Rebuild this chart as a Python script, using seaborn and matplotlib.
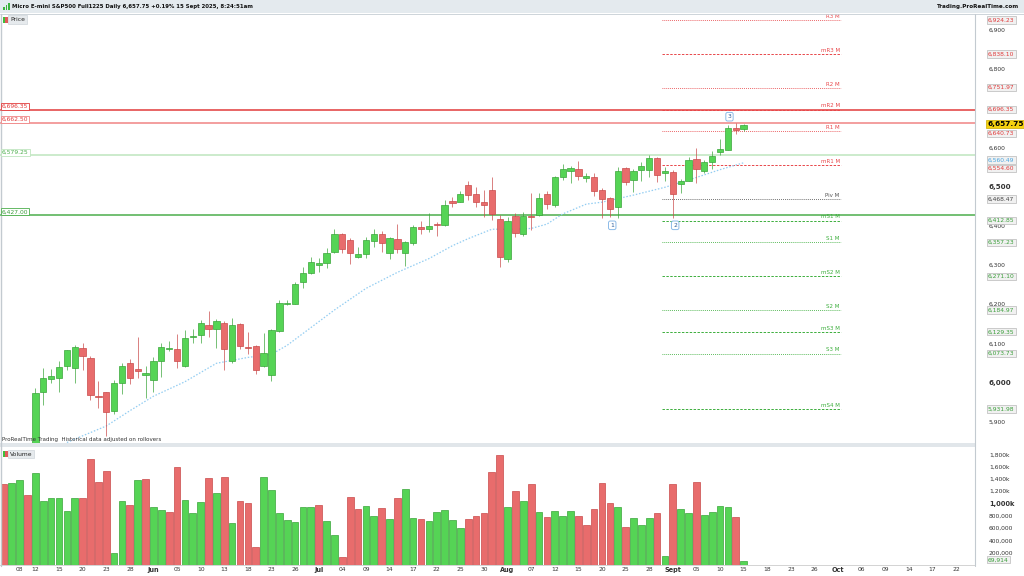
import matplotlib
matplotlib.use('Agg')
import matplotlib.pyplot as plt
import matplotlib.transforms as mtransforms
from matplotlib.patches import Rectangle
from matplotlib.lines import Line2D
import numpy as np
import pandas as pd
import seaborn as sns

# daily bars, 6 May -> 15 Sept 2025 (holidays are kept as short sessions)
opens = [5722, 5705, 5725, 5765, 5790, 5975, 6009, 6012, 6043, 6038,
         6088, 6063, 5966, 5975, 5928, 6000, 6049, 6034, 6020, 6006,
         6056, 6086, 6085, 6042, 6117, 6121, 6147, 6136, 6151, 6056,
         6149, 6091, 6093, 6043, 6019, 6131, 6199, 6200, 6257, 6279,
         6300, 6304, 6332, 6378, 6364, 6319, 6328, 6362, 6378, 6330,
         6365, 6330, 6355, 6397, 6392, 6404, 6402, 6463, 6461, 6504,
         6481, 6460, 6491, 6418, 6314, 6425, 6379, 6425, 6427, 6481,
         6454, 6523, 6540, 6544, 6522, 6523, 6491, 6471, 6448, 6548,
         6517, 6543, 6541, 6573, 6535, 6537, 6506, 6514, 6570, 6540,
         6563, 6589, 6593, 6650, 6647]
highs = [5735, 5730, 5790, 5785, 5986, 6036, 6034, 6055, 6084, 6096,
         6101, 6068, 6004, 5977, 6006, 6051, 6060, 6115, 6042, 6064,
         6100, 6107, 6124, 6134, 6136, 6159, 6182, 6161, 6156, 6164,
         6151, 6130, 6096, 6127, 6136, 6210, 6210, 6257, 6295, 6321,
         6317, 6342, 6391, 6381, 6368, 6346, 6370, 6392, 6386, 6370,
         6404, 6361, 6402, 6413, 6432, 6410, 6465, 6474, 6489, 6515,
         6498, 6491, 6523, 6427, 6421, 6432, 6436, 6483, 6484, 6489,
         6527, 6557, 6552, 6565, 6535, 6535, 6495, 6474, 6551, 6551,
         6545, 6563, 6580, 6575, 6551, 6542, 6520, 6574, 6599, 6568,
         6590, 6620, 6657, 6662.5, 6659]
lows = [5690, 5690, 5715, 5740, 5785, 5943, 5998, 5975, 6032, 6000,
        6032, 5955, 5936, 5864, 5920, 5970, 5995, 6011, 5960, 5975,
        6015, 6080, 6036, 6039, 6100, 6100, 6115, 6087, 6032, 6049,
        6085, 6073, 6022, 6040, 6004, 6130, 6197, 6200, 6240, 6278,
        6283, 6291, 6330, 6331, 6302, 6317, 6317, 6345, 6332, 6315,
        6330, 6297, 6351, 6378, 6385, 6374, 6400, 6447, 6460, 6466,
        6447, 6423, 6415, 6295, 6308, 6372, 6374, 6389, 6425, 6442,
        6447, 6517, 6508, 6517, 6512, 6476, 6419, 6421, 6419, 6504,
        6485, 6514, 6525, 6512, 6515, 6419, 6483, 6514, 6508, 6535,
        6544, 6580, 6593, 6634, 6642]
closes = [5702, 5722, 5760, 5755, 5972, 6012, 6016, 6040, 6083, 6091,
          6068, 5968, 5963, 5925, 5999, 6042, 6011, 6030, 6024, 6056,
          6090, 6089, 6054, 6114, 6119, 6153, 6137, 6158, 6086, 6147,
          6093, 6089, 6032, 6074, 6133, 6202, 6204, 6251, 6279, 6308,
          6305, 6330, 6379, 6340, 6331, 6328, 6364, 6379, 6355, 6368,
          6340, 6359, 6396, 6391, 6400, 6402, 6453, 6457, 6481, 6478,
          6461, 6452, 6430, 6319, 6412, 6381, 6425, 6421, 6470, 6455,
          6523, 6544, 6547, 6528, 6526, 6489, 6469, 6443, 6540, 6512,
          6540, 6552, 6572, 6529, 6540, 6481, 6514, 6568, 6545, 6562,
          6578, 6596, 6648, 6645, 6657.75]
volumes = [1312, 1328, 1382, 1133, 1491, 1046, 1084, 1095, 883, 1095,
           1095, 1718, 1355, 1523, 190, 1041, 981, 1382, 1393, 948,
           894, 862, 1588, 1052, 840, 1024, 1409, 1176, 1426, 688,
           1041, 1013, 287, 1436, 1220, 846, 726, 699, 943, 949,
           976, 721, 493, 135, 1100, 905, 954, 797, 927, 748,
           1089, 1236, 770, 748, 715, 867, 900, 737, 596, 743,
           797, 851, 1518, 1789, 943, 1209, 1041, 1317, 867, 775,
           878, 797, 878, 797, 656, 911, 1328, 1013, 943, 618,
           759, 656, 759, 851, 151, 1317, 916, 846, 1344, 818,
           856, 959, 948, 786, 69.914]  # thousands

# dotted moving average, read at a few bars
ma_bar = [8, 10, 13, 16, 19, 23, 27, 31, 34, 36, 38, 42, 46, 50, 54, 57,
          59, 62, 65, 67, 69, 71, 74, 76, 80, 84, 88, 91, 94]
ma_val = [5847, 5864, 5889, 5928, 5965, 6002, 6049, 6064, 6072, 6095, 6125,
          6185, 6240, 6281, 6316, 6349, 6367, 6391, 6391, 6393, 6404, 6430,
          6455, 6460, 6478, 6498, 6523, 6543, 6560.49]

# monthly pivots
piv_names = ['R3 M', 'mR3 M', 'R2 M', 'mR2 M', 'R1 M', 'mR1 M', 'Piv M',
             'mS1 M', 'S1 M', 'mS2 M', 'S2 M', 'mS3 M', 'S3 M', 'mS4 M']
piv_vals = [6924.23, 6838.10, 6751.97, 6696.35, 6640.73, 6554.60, 6468.47,
            6412.85, 6357.23, 6271.10, 6184.97, 6129.35, 6073.73, 5931.98]

# full width levels
level_vals = [6696.35, 6662.50, 6579.25, 6427.00]
level_cols = ['#e23b3b', '#f08484', '#bfe5bf', '#4cae4c']

# 6,700 is hidden behind the 6,696.35 box on the reference
price_ticks = [5900, 6000, 6100, 6200, 6300, 6400, 6500, 6600, 6800, 6900]
vol_ticks = [200, 400, 600, 800, 1000, 1200, 1400, 1600, 1800]
vol_tick_labels = ['200,000', '400,000', '600,000', '800,000', '1,000k',
                   '1,200k', '1,400k', '1,600k', '1,800k']

tick_dates = ['2025-05-08', '2025-05-12', '2025-05-15', '2025-05-20', '2025-05-23',
              '2025-05-28', '2025-06-02', '2025-06-05', '2025-06-10', '2025-06-13',
              '2025-06-18', '2025-06-23', '2025-06-26', '2025-07-01', '2025-07-04',
              '2025-07-09', '2025-07-14', '2025-07-17', '2025-07-22', '2025-07-25',
              '2025-07-30', '2025-08-04', '2025-08-07', '2025-08-12', '2025-08-15',
              '2025-08-20', '2025-08-25', '2025-08-28', '2025-09-02', '2025-09-05',
              '2025-09-10', '2025-09-15', '2025-09-18', '2025-09-23', '2025-09-26',
              '2025-10-01', '2025-10-06', '2025-10-09', '2025-10-14', '2025-10-17',
              '2025-10-22']
tick_labels = ['08', '12', '15', '20', '23', '28', 'Jun', '05', '10', '13', '18',
               '23', '26', 'Jul', '04', '09', '14', '17', '22', '25', '30', 'Aug',
               '07', '12', '15', '20', '25', '28', 'Sept', '05', '10', '15', '18',
               '23', '26', 'Oct', '06', '09', '14', '17', '22']

sns.set_theme(style='white')
plt.rcParams['font.family'] = ['DejaVu Sans']

GREEN, GREEN_E = '#55d455', '#3aa53a'
RED, RED_E = '#e86c6c', '#c94a4a'
FS = 4.3

all_days = pd.bdate_range('2025-05-06', '2025-10-24')
idx = np.arange(len(closes))
o, h, l, c = (np.array(a, dtype=float) for a in (opens, highs, lows, closes))
up = c >= o


def fx(x):
    return x / 1024


def fy(y):
    return 1 - y / 576


fig = plt.figure(figsize=(10.24, 5.76), dpi=100)
fig.patch.set_facecolor('white')

# chrome: title bar, pane separator, axis border lines
fig.add_artist(Rectangle((0, fy(13)), 1, 13 / 576, transform=fig.transFigure,
                         fc='#e4eaee', ec='none', zorder=0))
fig.add_artist(Line2D([0, 1], [fy(13.5)] * 2, color='#c5cdd3', lw=0.6))
fig.add_artist(Rectangle((0, fy(447)), fx(975), 4 / 576, transform=fig.transFigure,
                         fc='#e1e6ea', ec='none', zorder=0))
fig.add_artist(Line2D([fx(975)] * 2, [fy(566), fy(14)], color='#c3cad0', lw=0.8))
fig.add_artist(Line2D([fx(1.2)] * 2, [fy(566), fy(14)], color='#c3cad0', lw=1.0))

# ---------------- price pane ----------------
ax = fig.add_axes([0, fy(443), fx(975), (443 - 14) / 576])
ax.set_xlim(-0.5, 123.4)
ax.set_ylim(5845.7, 6940)
for s in ax.spines.values():
    s.set_visible(False)
ax.set_facecolor('none')

for v, col in zip(level_vals, level_cols):
    ax.axhline(v, color=col, lw=1.1, zorder=1)

piv_cols = ['#e8474a'] * 6 + ['#555555'] + ['#3cae3c'] * 7
for name, v, col in zip(piv_names, piv_vals, piv_cols):
    ls = (0, (2.5, 1.5)) if name.startswith('m') else (0, (0.8, 1.2))
    ax.hlines(v, 83.6, 106.4, colors=col, linestyles=ls, lw=0.7, zorder=1)
    ax.text(106.2, v + 3, name, ha='right', va='bottom', fontsize=FS - 0.3,
            color=col, zorder=4)

sns.lineplot(x=ma_bar, y=ma_val, ax=ax, color='#93cdf2', lw=0.9,
             linestyle=(0, (1.2, 1.4)), zorder=2)

wick_cols = np.where(up, GREEN_E, RED_E)
ax.vlines(idx, l, h, colors=wick_cols, lw=0.7, alpha=0.7, zorder=3)
ax.bar(idx, np.maximum(np.abs(c - o), 1.3), bottom=np.minimum(o, c), width=0.8,
       color=np.where(up, GREEN, RED), edgecolor=np.where(up, GREEN_E, RED_E),
       lw=0.5, zorder=4)

for n, xi, yv in [('1', 77.3, 6401), ('2', 85.3, 6401), ('3', 92.2, 6678)]:
    ax.text(xi, yv, n, ha='center', va='center', fontsize=FS, color='#2b5c9a',
            zorder=6, bbox=dict(boxstyle='round,pad=0.3', fc='white',
                                ec='#8cbbe8', lw=0.7))

ax.set_xticks([])
ax.yaxis.tick_right()
ax.set_yticks(price_ticks)
ax.set_yticklabels([f'{t:,}' for t in price_ticks])
ax.tick_params(axis='y', right=False, left=False, length=0, labelsize=FS,
               labelcolor='#333333', pad=10)
for t, lab in zip(price_ticks, ax.get_yticklabels()):
    if t in (6000, 6500):
        lab.set_fontweight('bold')
        lab.set_fontsize(FS + 0.8)
ax.set_xlabel('')
ax.set_ylabel('')

# left boxed labels of the full width levels
left_tr = mtransforms.blended_transform_factory(fig.transFigure, ax.transData)
left_txt = ['#e23b3b', '#e23b3b', '#4cae4c', '#3c9e3c']
for v, col, tc in zip(level_vals, level_cols, left_txt):
    fig.text(fx(2), v + 2, f'{v:,.2f}', transform=left_tr, ha='left', va='bottom',
             fontsize=FS, color=tc, zorder=5,
             bbox=dict(boxstyle='square,pad=0.15', fc='white', ec=col, lw=0.6))

# right boxed labels (nudged apart where they would collide, as the platform does)
box = dict(boxstyle='square,pad=0.2', fc='#f1f1f1', ec='#b8b8b8', lw=0.5)
nudge = {6640.73: -5, 6554.60: -8}
for i, v in enumerate(piv_vals):
    tc = '#e03a3a' if i < 6 else ('#444444' if i == 6 else '#3a9e3a')
    fig.text(fx(988), v + nudge.get(v, 0), f'{v:,.2f}', transform=left_tr, ha='left',
             va='center', fontsize=FS, color=tc, zorder=5, bbox=box)
fig.text(fx(988), ma_val[-1] + 7, f'{ma_val[-1]:,.2f}', transform=left_tr, ha='left',
         va='center', fontsize=FS, color='#4aa6e0', zorder=5, bbox=box)
fig.text(fx(987), closes[-1] + 2, f'{closes[-1]:,.2f}', transform=left_tr, ha='left',
         va='center', fontsize=FS + 1.0, fontweight='bold', color='black', zorder=6,
         bbox=dict(boxstyle='square,pad=0.12', fc='#f6d20f', ec='#c9a800', lw=0.5))

# ---------------- volume pane ----------------
axv = fig.add_axes([0, fy(565), fx(975), (565 - 447) / 576])
vdf = pd.DataFrame({'bar': idx, 'vol': volumes,
                    'dir': np.where(np.r_[False, np.diff(c) > 0], 'up', 'down')})
for d, fc, ec in [('up', GREEN, GREEN_E), ('down', RED, RED_E)]:
    sub = vdf[vdf['dir'] == d]
    sns.barplot(data=sub, x='bar', y='vol', native_scale=True, color=fc,
                edgecolor=ec, linewidth=0.5, width=0.85, errorbar=None,
                saturation=1, ax=axv)
axv.set_xlim(-0.5, 123.4)
axv.set_ylim(0, 1918.7)
axv.set_xlabel('')
axv.set_ylabel('')
for k, s in axv.spines.items():
    s.set_visible(k == 'bottom')
axv.spines['bottom'].set_color('#cccccc')
axv.spines['bottom'].set_linewidth(0.6)

tick_pos = all_days.get_indexer(pd.to_datetime(tick_dates))
axv.set_xticks(tick_pos)
axv.set_xticklabels(tick_labels)
axv.tick_params(axis='x', length=0, pad=1.5, labelsize=FS, labelcolor='#333333')
for lab in axv.get_xticklabels():
    if not lab.get_text().isdigit():
        lab.set_fontweight('bold')
        lab.set_fontsize(FS + 0.4)

axv.yaxis.tick_right()
axv.set_yticks(vol_ticks)
axv.set_yticklabels(vol_tick_labels)
axv.tick_params(axis='y', right=False, left=False, length=0, labelsize=FS,
                labelcolor='#333333', pad=10)
for lab in axv.get_yticklabels():
    if lab.get_text() == '1,000k':
        lab.set_fontweight('bold')
        lab.set_fontsize(FS + 0.5)
vol_tr = mtransforms.blended_transform_factory(fig.transFigure, axv.transData)
fig.text(fx(988), 85, f'{volumes[-1] * 1000:,.0f}', transform=vol_tr, ha='left',
         va='center', fontsize=FS, color='#3a9e3a', zorder=5, bbox=box)

# ---------------- texts ----------------
for k, hh in enumerate([3, 5, 7]):
    fig.add_artist(Rectangle((fx(3 + k * 2.5), fy(10)), fx(1.5), hh / 576,
                             transform=fig.transFigure, fc='#3cb43c', ec='none'))
fig.text(fx(12), fy(6.8), 'Micro E-mini S&P500 Full1225 Daily 6,657.75 +0.19% 15 Sept 2025, 8:24:51am',
         ha='left', va='center', fontsize=FS - 0.4, fontweight='bold', color='#111111')
fig.text(fx(1019), fy(6.8), 'Trading.ProRealTime.com', ha='right', va='center',
         fontsize=FS - 0.2, fontweight='bold', color='#111111')

for label, yy in [('Price', 19.5), ('Volume', 454)]:
    fig.text(fx(10), fy(yy), label, ha='left', va='center', fontsize=FS, color='#222222',
             bbox=dict(boxstyle='square,pad=0.3', fc='#e6eaed', ec='#cfd5da', lw=0.5))
    fig.add_artist(Rectangle((fx(3), fy(yy + 3)), fx(2.2), 6 / 576,
                             transform=fig.transFigure, fc='#3cc03c', ec='none', zorder=6))
    fig.add_artist(Rectangle((fx(5.4), fy(yy + 3)), fx(2.2), 6 / 576,
                             transform=fig.transFigure, fc='#e05a5a', ec='none', zorder=6))

fig.text(fx(2), fy(440), 'ProRealTime Trading  Historical data adjusted on rollovers',
         ha='left', va='center', fontsize=FS - 0.3, color='#333333')

fig.savefig('out.png', dpi=100)
